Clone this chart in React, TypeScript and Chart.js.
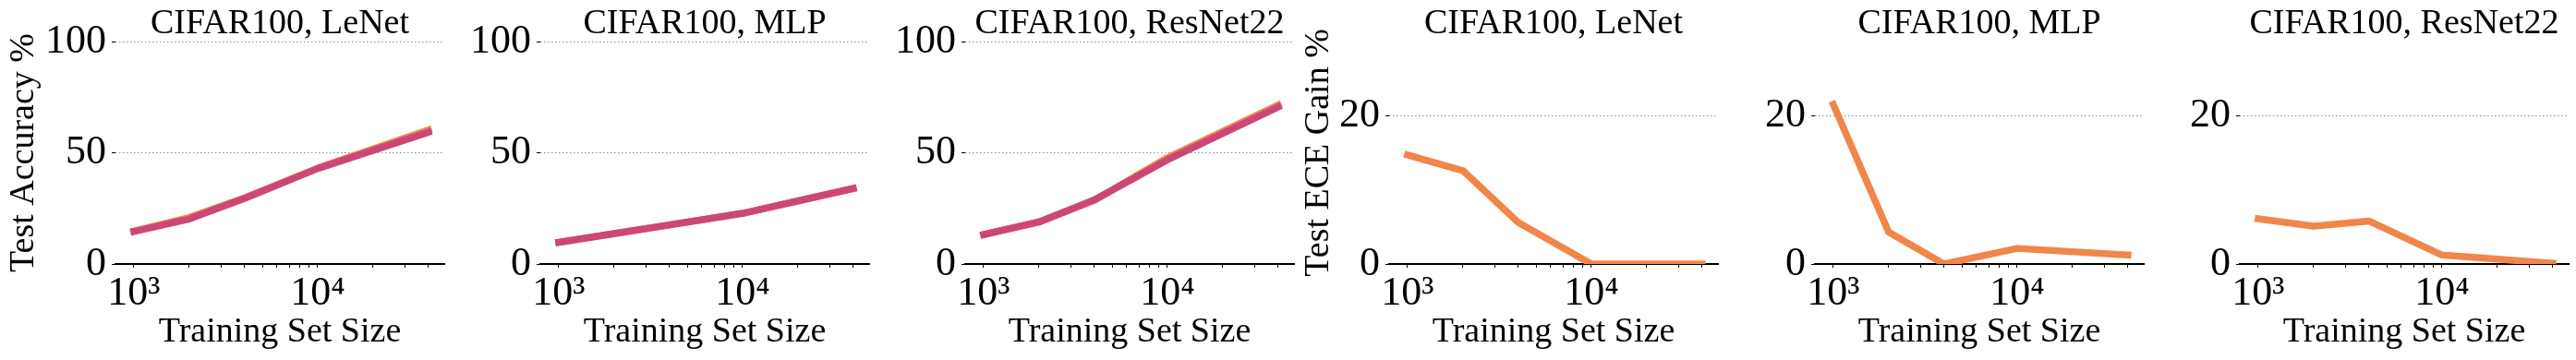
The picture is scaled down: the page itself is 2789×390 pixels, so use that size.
import React, { useEffect, useRef } from 'react';
import { Chart, registerables } from 'chart.js';

Chart.register(...registerables);

// ---------------- data ----------------
const trainSizes = [1000, 2000, 4000, 10000, 40000];
const xTickValues = [1000, 2000, 3000, 4000, 5000, 6000, 7000, 8000, 9000, 10000, 20000, 30000, 40000];
const xTickLabels: Record<number, string> = { 1000: '10³', 10000: '10⁴' };

const accLeNetPink = [14.6, 20.2, 29.5, 42.9, 59.2];
const accLeNetOrange = [14.8, 20.9, 29.8, 43.1, 60.3];
const accMLPPink = [9.8, 13.7, 17.6, 22.8, 34.0];
const accMLPOrange = [9.7, 13.6, 17.5, 22.7, 33.9];
const accResNetPink = [13.2, 18.8, 28.8, 46.8, 70.5];
const accResNetOrange = [13.3, 19.0, 28.6, 47.8, 71.5];

const eceLeNet = [14.7, 12.6, 5.6, 0.0, 0.0];
const eceMLP = [21.5, 4.3, 0.0, 2.1, 1.2];
const eceResNet = [6.1, 5.1, 5.8, 1.2, 0.1];

const accYTicks = [0, 50, 100];
const eceYTicks = [0, 20];

const panelTitles = [
  'CIFAR100, LeNet',
  'CIFAR100, MLP',
  'CIFAR100, ResNet22',
  'CIFAR100, LeNet',
  'CIFAR100, MLP',
  'CIFAR100, ResNet22',
];
const accYLabel = 'Test Accuracy %';
const eceYLabel = 'Test ECE Gain %';
const xLabel = 'Training Set Size';

// ---------------- styling / layout ----------------
const FONT = '"Liberation Serif", "Times New Roman", serif';
const PINK = '#cc4778';
const ORANGE = '#f1864b';
const H = 390;
const Y_AXIS_W = 125;
const PLOT_W = 356;
const RIGHT_PAD = 6;
const PLOT_TOP = 45;
const PLOT_BOTTOM = 286;

type PanelDef = {
  left: number;
  title: string;
  series: { values: number[]; color: string }[];
  yMax: number;
  yTicks: number[];
  yLabel: string | null;
  yLabelPad: number;
};

const panels: PanelDef[] = [
  { left: 125, title: panelTitles[0], series: [{ values: accLeNetPink, color: PINK }, { values: accLeNetOrange, color: ORANGE }], yMax: 100, yTicks: accYTicks, yLabel: accYLabel, yLabelPad: 2.9 },
  { left: 585, title: panelTitles[1], series: [{ values: accMLPPink, color: PINK }, { values: accMLPOrange, color: ORANGE }], yMax: 100, yTicks: accYTicks, yLabel: null, yLabelPad: 0 },
  { left: 1045, title: panelTitles[2], series: [{ values: accResNetPink, color: PINK }, { values: accResNetOrange, color: ORANGE }], yMax: 100, yTicks: accYTicks, yLabel: null, yLabelPad: 0 },
  { left: 1504, title: panelTitles[3], series: [{ values: eceLeNet, color: ORANGE }], yMax: 30, yTicks: eceYTicks, yLabel: eceYLabel, yLabelPad: 25.9 },
  { left: 1965, title: panelTitles[4], series: [{ values: eceMLP, color: ORANGE }], yMax: 30, yTicks: eceYTicks, yLabel: null, yLabelPad: 0 },
  { left: 2425, title: panelTitles[5], series: [{ values: eceResNet, color: ORANGE }], yMax: 30, yTicks: eceYTicks, yLabel: null, yLabelPad: 0 },
];

const panelTitlePlugin = {
  id: 'panelTitle',
  afterDraw(chart: any, _args: any, opts: any) {
    const { ctx, chartArea } = chart;
    ctx.save();
    ctx.font = `38px ${FONT}`;
    ctx.fillStyle = '#000';
    ctx.textAlign = 'center';
    ctx.textBaseline = 'alphabetic';
    ctx.fillText(opts.text, (chartArea.left + chartArea.right) / 2, 36);
    ctx.restore();
  },
};

function Panel({ def }: { def: PanelDef }) {
  const ref = useRef<HTMLCanvasElement | null>(null);
  useEffect(() => {
    if (!ref.current) return;
    const chart = new Chart(ref.current, {
      type: 'line',
      data: {
        datasets: def.series.map((s) => ({
          data: trainSizes.map((x, i) => ({ x, y: s.values[i] })),
          borderColor: s.color,
          backgroundColor: s.color,
          borderWidth: 7.5,
          borderCapStyle: 'square',
          borderJoinStyle: 'round',
          pointRadius: 0,
          pointHoverRadius: 0,
          tension: 0,
          fill: false,
          clip: 0,
        })),
      },
      options: {
        animation: false,
        responsive: false,
        devicePixelRatio: 1,
        events: [],
        layout: { padding: { top: PLOT_TOP, left: 0, right: RIGHT_PAD, bottom: 0 } },
        plugins: {
          legend: { display: false },
          tooltip: { enabled: false },
          title: { display: false },
          panelTitle: { text: def.title },
        } as any,
        scales: {
          x: {
            type: 'logarithmic',
            min: 794,
            max: 48800,
            afterBuildTicks: (s: any) => {
              s.ticks = xTickValues.map((v) => ({ value: v }));
            },
            afterFit: (s: any) => {
              s.height = H - PLOT_BOTTOM;
            },
            ticks: {
              autoSkip: false,
              maxRotation: 0,
              minRotation: 0,
              padding: 2,
              color: '#000',
              font: { family: FONT, size: 44 },
              callback: (v: any) => xTickLabels[Number(v)] ?? '',
            },
            grid: {
              drawOnChartArea: false,
              drawTicks: true,
              tickLength: 4,
              tickColor: '#000',
              tickWidth: 1,
            },
            border: { display: true, color: '#000', width: 2 },
            title: {
              display: true,
              text: xLabel,
              color: '#000',
              font: { family: FONT, size: 38 },
              padding: { top: 0, bottom: 7.5 },
            },
          },
          y: {
            type: 'linear',
            min: 0,
            max: def.yMax,
            afterBuildTicks: (s: any) => {
              s.ticks = def.yTicks.map((v) => ({ value: v }));
            },
            afterFit: (s: any) => {
              s.width = Y_AXIS_W;
            },
            ticks: {
              padding: 6,
              color: '#000',
              font: { family: FONT, size: 44 },
              callback: (v: any) => String(v),
            },
            grid: {
              color: 'rgba(0,0,0,0.45)',
              lineWidth: 1,
              drawTicks: true,
              tickLength: 4,
              tickColor: '#000',
              tickWidth: 1,
            },
            border: { display: false, dash: [1.5, 2.5] },
            title: {
              display: !!def.yLabel,
              text: def.yLabel || '',
              color: '#000',
              font: { family: FONT, size: 38 },
              padding: { top: def.yLabelPad, bottom: 0 },
            },
          },
        },
      } as any,
      plugins: [panelTitlePlugin],
    } as any);
    return () => chart.destroy();
  }, [def]);

  const w = Y_AXIS_W + PLOT_W + RIGHT_PAD;
  return (
    <canvas
      ref={ref}
      width={w}
      height={H}
      style={{ position: 'absolute', left: def.left - Y_AXIS_W, top: 0, width: w, height: H }}
    />
  );
}

export default function App() {
  return (
    <div style={{ position: 'absolute', left: 0, top: 0, width: 2789, height: H, background: '#fff', overflow: 'hidden' }}>
      {panels.map((p, i) => (
        <Panel key={i} def={p} />
      ))}
    </div>
  );
}
